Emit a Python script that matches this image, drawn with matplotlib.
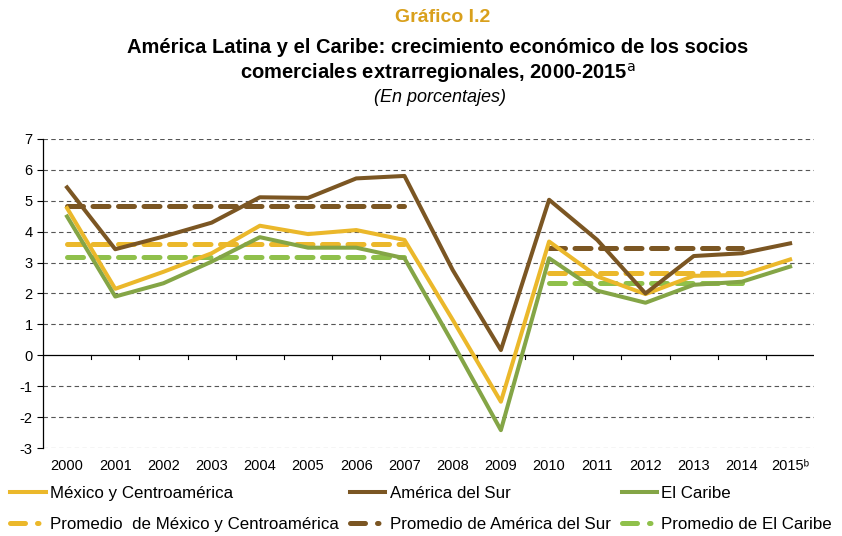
import matplotlib.pyplot as plt
from matplotlib.lines import Line2D
import numpy as np

plt.rcParams["font.family"] = ["Liberation Sans", "DejaVu Sans"]
plt.rcParams["axes.unicode_minus"] = False

years = ["2000", "2001", "2002", "2003", "2004", "2005", "2006", "2007",
         "2008", "2009", "2010", "2011", "2012", "2013", "2014", "2015\u1d47"]

mexico = [4.76, 2.15, 2.70, 3.30, 4.19, 3.92, 4.05, 3.73,
          1.15, -1.50, 3.68, 2.55, 1.98, 2.57, 2.60, 3.10]
sur = [5.43, 3.43, 3.84, 4.29, 5.11, 5.09, 5.72, 5.80,
       2.76, 0.17, 5.03, 3.73, 2.00, 3.21, 3.30, 3.62]
caribe = [4.49, 1.90, 2.33, 3.03, 3.82, 3.48, 3.48, 3.14,
          0.40, -2.42, 3.14, 2.09, 1.70, 2.28, 2.38, 2.87]

# promedios 2000-2007 y 2010-2014
prom_mexico = [3.59, 2.65]
prom_sur = [4.83, 3.46]
prom_caribe = [3.19, 2.33]
periodos = [(0, 7), (10, 14)]

c_mex = "#EBB82B"
c_sur = "#7B5623"
c_car = "#84A546"
c_car_prom = "#8FC04B"

fig = plt.figure(figsize=(8.42, 5.36), dpi=100)
ax = fig.add_axes([0.051, 0.164, 0.916, 0.577])

x = np.arange(len(years))

for v in range(-3, 8):
    if v != 0:
        ax.axhline(v, color="#555555", linewidth=0.8, dashes=(4, 3), zorder=0)
ax.axhline(0, color="black", linewidth=0.9, zorder=1)
for b in np.arange(1, len(years)) - 0.5:
    ax.plot([b, b], [0, -0.12], color="black", linewidth=0.8, clip_on=False, zorder=1)

h_mex, = ax.plot(x, mexico, color=c_mex, linewidth=2.9, zorder=3)
h_sur, = ax.plot(x, sur, color=c_sur, linewidth=2.9, zorder=3)
h_car, = ax.plot(x, caribe, color=c_car, linewidth=2.9, zorder=3)

proms = [(prom_mexico, c_mex), (prom_sur, c_sur), (prom_caribe, c_car_prom)]
prom_handles = []
for vals, col in proms:
    for (a, b), v in zip(periodos, vals):
        ax.plot([a, b], [v, v], color=col, linewidth=3.6, dashes=(3.2, 1.9),
                dash_capstyle="round", zorder=2)
    # leyenda: trazo largo y punto, como en el original
    prom_handles.append(Line2D([], [], color=col, linewidth=3.6,
                               dashes=(3.0, 2.4, 0.3, 10), dash_capstyle="round"))

ax.set_xlim(-0.5, len(years) - 0.5)
ax.set_ylim(-3, 7)
ax.set_yticks(range(-3, 8))
ax.set_xticks(x)
ax.set_xticklabels(years, fontsize=10.5)
ax.tick_params(axis="x", length=0, pad=8)
ax.tick_params(axis="y", labelsize=10.5, length=4, width=0.8, direction="out")

for s in ["top", "right", "bottom"]:
    ax.spines[s].set_visible(False)
ax.spines["left"].set_linewidth(0.9)

fig.text(0.526, 0.968, "Gráfico I.2", ha="center", va="center", fontsize=14,
         fontweight="bold", color="#D9A01C")
fig.text(0.52, 0.911, "América Latina y el Caribe: crecimiento económico de los socios",
         ha="center", va="center", fontsize=14.5, fontweight="bold")
fig.text(0.52, 0.864, "comerciales extrarregionales, 2000-2015$^{\\mathrm{a}}$",
         ha="center", va="center", fontsize=14.5, fontweight="bold")
fig.text(0.522, 0.818, "(En porcentajes)", ha="center", va="center", fontsize=13,
         style="italic")

handles = [h_mex, prom_handles[0], h_sur, prom_handles[1], h_car, prom_handles[2]]
labels = ["México y Centroamérica", "Promedio  de México y Centroamérica",
          "América del Sur", "Promedio de América del Sur",
          "El Caribe", "Promedio de El Caribe"]
fig.legend(handles, labels, loc="upper left", bbox_to_anchor=(0.012, 0.093), ncol=3,
           frameon=False, fontsize=12.2, handlelength=2.1, handletextpad=0.25,
           columnspacing=0.65, labelspacing=0.95, borderpad=0, borderaxespad=0)

fig.savefig("out.png", dpi=100)
